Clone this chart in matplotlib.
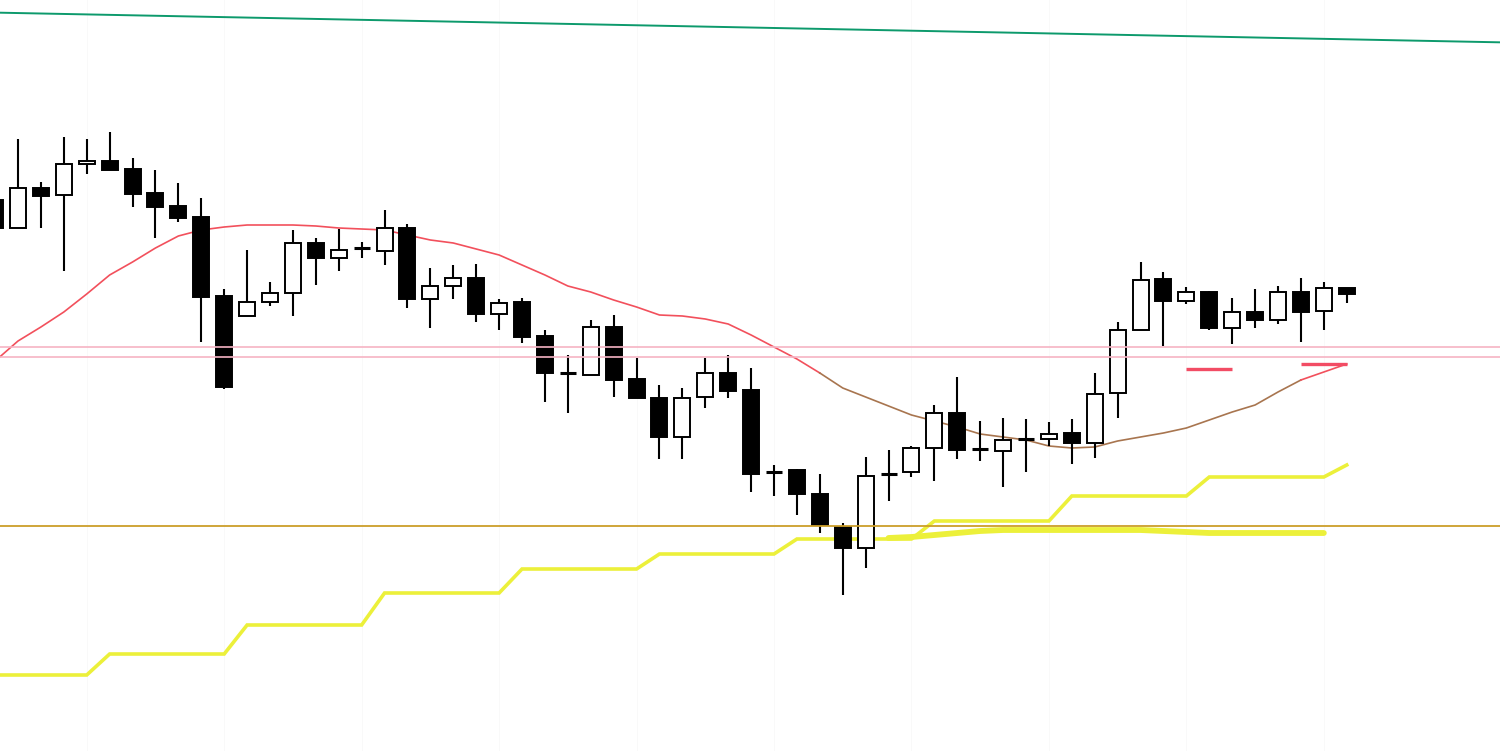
import matplotlib
matplotlib.use("Agg")
import matplotlib.pyplot as plt
from matplotlib.patches import Rectangle

# candles, oldest first (price units are arbitrary)
opens = [152.00, 151.72, 152.12, 152.05, 152.36, 152.39, 152.31, 152.07, 151.94, 151.83,
         151.04, 150.84, 150.98, 151.07, 151.57, 151.42, 151.52, 151.49, 151.72, 151.01,
         151.14, 151.22, 150.86, 150.98, 150.64, 150.27, 150.25, 150.73, 150.21, 150.02,
         149.63, 150.03, 150.27, 150.10, 149.28, 149.30, 149.06, 148.73, 148.52, 149.26,
         149.28, 149.52, 149.87, 149.51, 149.49, 149.61, 149.61, 149.67, 149.57, 150.07,
         150.70, 151.21, 150.99, 151.08, 150.72, 150.88, 150.80, 151.08, 150.89, 151.12]
highs = [152.00, 152.61, 152.18, 152.63, 152.61, 152.68, 152.42, 152.30, 152.17, 152.02,
         151.11, 151.50, 151.18, 151.70, 151.62, 151.71, 151.58, 151.90, 151.76, 151.32,
         151.35, 151.36, 151.01, 151.02, 150.70, 150.45, 150.80, 150.85, 150.42, 150.15,
         150.12, 150.42, 150.45, 150.32, 149.35, 149.31, 149.26, 148.77, 149.43, 149.50,
         149.54, 149.95, 150.23, 149.79, 149.82, 149.81, 149.78, 149.81, 150.27, 150.78,
         151.38, 151.28, 151.13, 151.09, 151.02, 151.11, 151.14, 151.22, 151.18, 151.12]
lows = [151.72, 151.72, 151.72, 151.29, 152.26, 152.30, 151.93, 151.62, 151.78, 150.58,
        150.11, 150.84, 150.94, 150.84, 151.15, 151.29, 151.42, 151.35, 150.92, 150.72,
        151.01, 150.78, 150.70, 150.57, 149.98, 149.87, 150.25, 150.03, 150.02, 149.41,
        149.41, 149.92, 150.02, 149.08, 149.04, 148.85, 148.67, 148.05, 148.32, 148.99,
        149.23, 149.19, 149.41, 149.39, 149.13, 149.28, 149.54, 149.36, 149.42, 149.82,
        150.70, 150.54, 150.96, 150.70, 150.56, 150.72, 150.76, 150.58, 150.70, 150.97]
closes = [151.72, 152.12, 152.04, 152.36, 152.39, 152.30, 152.06, 151.93, 151.82, 151.03,
          150.13, 150.98, 151.07, 151.57, 151.42, 151.50, 151.51, 151.72, 151.01, 151.14,
          151.22, 150.86, 150.97, 150.63, 150.27, 150.26, 150.73, 150.20, 150.02, 149.63,
          150.02, 150.27, 150.09, 149.26, 149.27, 149.06, 148.75, 148.52, 149.24, 149.25,
          149.52, 149.87, 149.50, 149.51, 149.60, 149.61, 149.66, 149.57, 150.06, 150.70,
          151.20, 150.99, 151.08, 150.72, 150.88, 150.80, 151.08, 150.88, 151.12, 151.06]

# moving average under the candles
ma = [150.39, 150.59, 150.73, 150.88, 151.06, 151.25, 151.38, 151.52, 151.64, 151.70,
      151.73, 151.75, 151.75, 151.75, 151.74, 151.72, 151.71, 151.70, 151.65, 151.60,
      151.57, 151.51, 151.45, 151.35, 151.25, 151.14, 151.08, 151.00, 150.93, 150.85,
      150.84, 150.81, 150.76, 150.65, 150.53, 150.41, 150.27, 150.12, 150.03, 149.94,
      149.85, 149.79, 149.73, 149.66, 149.63, 149.60, 149.54, 149.52, 149.53, 149.59,
      149.63, 149.67, 149.72, 149.80, 149.88, 149.95, 150.08, 150.20, 150.28, 150.36]

# stepped yellow line (one value per candle)
steps = [147.25] * 5 + [147.46] * 6 + [147.75] * 6 + [148.07] * 6 + [148.31] * 6 \
        + [148.46] * 6 + [148.61] * 6 + [148.79] * 6 + [149.04] * 6 + [149.23] * 6 + [149.35]

# thick yellow line, starts at candle 39 and stops at candle 58
slow_start = 39
slow = [148.62, 148.63, 148.65, 148.67, 148.69, 148.70, 148.70, 148.70, 148.70, 148.70,
        148.70, 148.70, 148.69, 148.68, 148.67, 148.67, 148.67, 148.67, 148.67, 148.67]

zone = [150.53, 150.43]          # pink band
orange_level = 148.74
trend = [(0, 153.874), (59, 153.607)]   # green trendline
marks = [(52, 54, 150.31), (57, 59, 150.36)]  # short red dashes (start, end, level)
day_lines = list(range(4, 60, 6))


fig = plt.figure(figsize=(15, 7.51), dpi=100)
ax = fig.add_axes([0, 0, 1, 1])
ax.set_xlim(0.214, 65.69)
ax.set_ylim(146.49, 154.00)
ax.axis("off")

for d in day_lines:
    ax.axvline(d, color="#f9f9f9", lw=0.7, zorder=0)  # barely visible day separators

n = len(opens)
idx = list(range(n))

# yellow lines go behind the candles
ax.plot(idx, steps, color="#ecf03a", lw=2.6, solid_joinstyle="miter", zorder=1)
ax.plot(range(slow_start, slow_start + len(slow)), slow, color="#ecf03a", lw=4.2,
        solid_capstyle="round", zorder=1)

# MA: red, brown while flattening out, red again at the end
ax.plot(idx[:37], ma[:37], color="#f2505c", lw=1.2, zorder=2)
ax.plot(idx[36:58], ma[36:58], color="#a8754f", lw=1.2, zorder=2)
ax.plot(idx[57:], ma[57:], color="#f2505c", lw=1.2, zorder=2)

w = 0.70
for i in idx:
    o, h, l, c = opens[i], highs[i], lows[i], closes[i]
    ax.vlines(i, l, h, color="black", lw=1.5, zorder=3)
    if abs(c - o) < 0.02:  # doji -> flat bar
        ax.hlines(o, i - w / 2, i + w / 2, color="black", lw=2.2, zorder=4)
        continue
    face = "white" if c > o else "black"
    ax.add_patch(Rectangle((i - w / 2, min(o, c)), w, abs(c - o), facecolor=face,
                           edgecolor="black", lw=1.4, zorder=4))

# horizontal levels on top
for lv in zone:
    ax.axhline(lv, color="#f6b4c4", lw=1.2, zorder=5)
ax.axhline(orange_level, color="#cc9e2a", lw=1.3, zorder=5)
ax.axline(trend[0], trend[1], color="#0d9a6c", lw=1.4, zorder=5)

for a, b, lv in marks:
    ax.hlines(lv, a, b, color="#f24c64", lw=2.4, zorder=5)

fig.savefig("out.png", dpi=100)
